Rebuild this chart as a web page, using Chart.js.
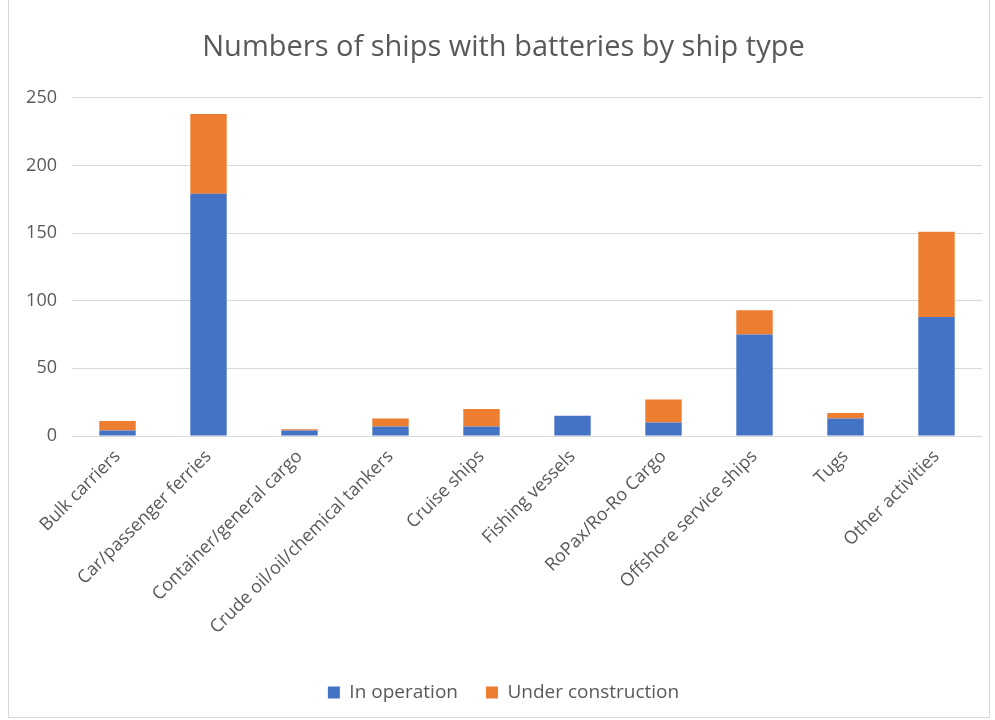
<!DOCTYPE html>
<html>
<head>
<meta charset="utf-8">
<script src="https://cdn.jsdelivr.net/npm/chart.js@4/dist/chart.umd.min.js"></script>
<style>
  html, body { margin: 0; padding: 0; background: #fff; }
  #wrap { position: absolute; left: 8px; top: 0; width: 980px; height: 717px; border: 1px solid #d9d9d9; border-top: none; }
  #chart { position: absolute; left: -9px; top: 0; }
</style>
</head>
<body>
<div id="wrap"><canvas id="chart" width="995" height="720"></canvas></div>
<script>
const shipTypes = ['Bulk carriers', 'Car/passenger ferries', 'Container/general cargo', 'Crude oil/oil/chemical tankers',
    'Cruise ships', 'Fishing vessels', 'RoPax/Ro-Ro Cargo', 'Offshore service ships', 'Tugs', 'Other activities'];
const inOperation = [4, 179, 4, 7, 7, 15, 10, 75, 13, 88];
const underConstruction = [7, 59, 1, 6, 13, 0, 17, 18, 4, 63];
const yTicks = [0, 50, 100, 150, 200, 250];

const grey = '#595959';
const font = '"Open Sans", "Liberation Sans", sans-serif';

const ctx = document.getElementById('chart').getContext('2d');
const myChart = new Chart(ctx, {
    type: 'bar',
    data: {
        labels: shipTypes,
        datasets: [{
            label: 'In operation',
            data: inOperation,
            backgroundColor: '#4472c4',
            barPercentage: 0.4,
            categoryPercentage: 1
        }, {
            label: 'Under construction',
            data: underConstruction,
            backgroundColor: '#ed7d31',
            barPercentage: 0.4,
            categoryPercentage: 1
        }]
    },
    options: {
        responsive: false,
        animation: false,
        layout: {
            // left padding pushes title/legend a bit right, like the original
            padding: { left: 25, right: 13, top: 0, bottom: 8 }
        },
        plugins: {
            title: {
                display: true,
                text: 'Numbers of ships with batteries by ship type',
                color: grey,
                font: { family: font, size: 29, weight: 'normal' },
                padding: { top: 30, bottom: 33 }
            },
            legend: {
                position: 'bottom',
                labels: {
                    color: grey,
                    font: { family: font, size: 19 },
                    boxWidth: 12,
                    boxHeight: 12,
                    padding: 28
                }
            },
            tooltip: { enabled: false }
        },
        scales: {
            x: {
                stacked: true,
                grid: { display: false },
                border: { display: false },
                ticks: {
                    color: grey,
                    font: { family: font, size: 18 },
                    minRotation: 45,
                    maxRotation: 45,
                    autoSkip: false,
                    padding: 2
                },
                afterFit: function (scale) { scale.height = 219; }
            },
            y: {
                stacked: true,
                min: 0,
                max: 250,
                afterBuildTicks: function (scale) {
                    scale.ticks = yTicks.map(v => ({ value: v }));
                },
                grid: { color: '#d9d9d9', lineWidth: 1, drawTicks: false },
                border: { display: false },
                ticks: {
                    color: grey,
                    font: { family: font, size: 18 },
                    padding: 15
                },
                afterFit: function (scale) { scale.width = 47; }
            }
        }
    }
});
</script>
</body>
</html>
